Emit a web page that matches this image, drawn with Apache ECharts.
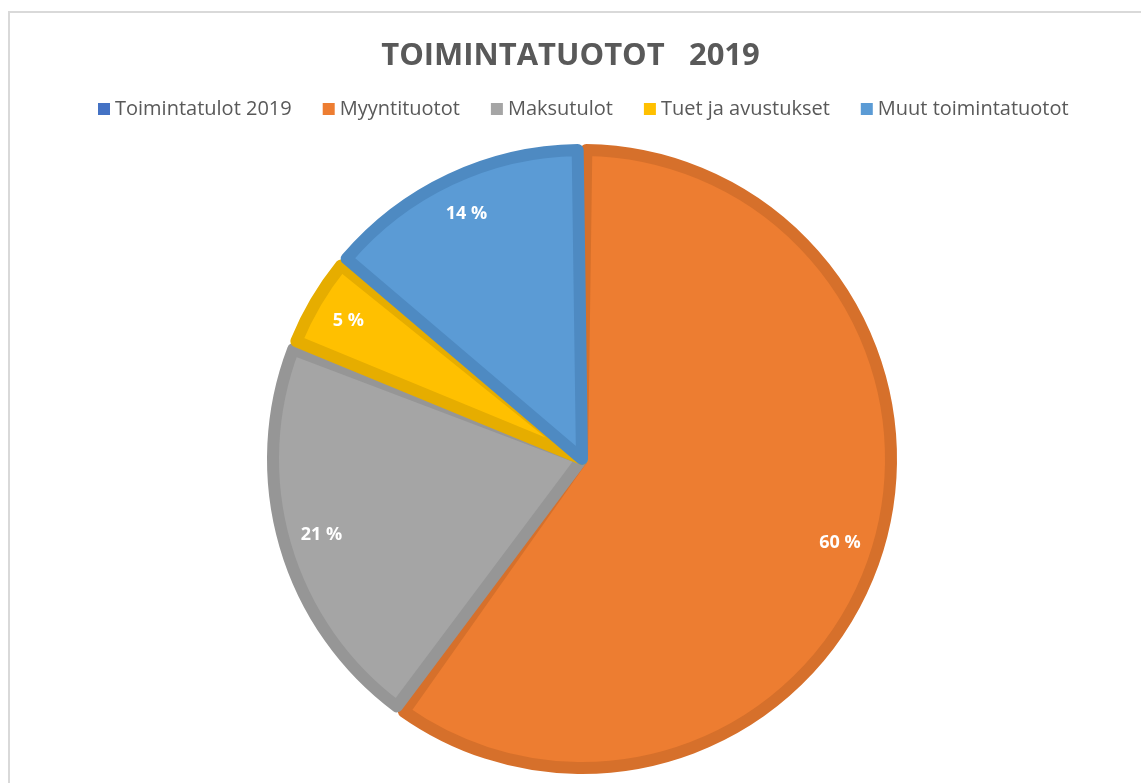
<!DOCTYPE html>
<html>
<head>
<meta charset="utf-8">
<script src="https://cdn.jsdelivr.net/npm/echarts@6/dist/echarts.min.js"></script>
<style>
  html, body { margin: 0; padding: 0; background: #fff; }
  #main { width: 1141px; height: 783px; }
</style>
</head>
<body>
<div id="main"></div>
<script>
var categories = ['Toimintatulot 2019', 'Myyntituotot', 'Maksutulot', 'Tuet ja avustukset', 'Muut toimintatuotot'];
var shares = [0, 60, 21, 5, 14];
var fillColors = ['#4472C4', '#ED7D31', '#A5A5A5', '#FFC000', '#5B9BD5'];
var edgeColors = ['#3A62A8', '#D6702B', '#969696', '#E6AD00', '#4E8AC2'];

var center = [582, 459];
var R = 312;

// keepZero: the empty slice is only needed so the legend lists it
function makeData(colors, keepZero) {
    var out = [];
    for (var i = 0; i < categories.length; i++) {
        if (!shares[i] && !keepZero) continue;
        out.push({ name: categories[i], value: shares[i], itemStyle: { color: colors[i] } });
    }
    return out;
}

// light slices get a stroke in their own darker tone, that gives the inner edge
var innerData = makeData(fillColors, false).map(function (d) {
    var i = categories.indexOf(d.name);
    d.itemStyle.borderColor = edgeColors[i];
    return d;
});

var legendData = categories.map(function (c, i) {
    return { name: c, itemStyle: { color: fillColors[i], borderWidth: 0 } };
});

var myChart = echarts.init(document.getElementById('main'));

var option = {
    animation: false,
    title: {
        text: 'TOIMINTATUOTOT   2019',
        left: 'center',
        top: 36,
        textStyle: { fontFamily: 'Open Sans', fontSize: 31, fontWeight: 'bold', color: '#595959' }
    },
    legend: {
        top: 94,
        left: 93,
        itemWidth: 12,
        itemHeight: 12,
        itemGap: 31,
        icon: 'rect',
        data: legendData,
        itemStyle: { borderWidth: 0 },
        textStyle: { fontFamily: 'Open Sans', fontSize: 20, color: '#595959' },
        selectedMode: false
    },
    graphic: [{
        type: 'rect',
        shape: { x: 9, y: 12, width: 1200, height: 900 },
        style: { fill: 'none', stroke: '#D9D9D9', lineWidth: 2 },
        silent: true
    }],
    series: [
        {
            // inner light fill
            type: 'pie',
            z: 3,
            center: center,
            radius: R - 3,
            startAngle: 90,
            clockwise: true,
            padAngle: 1.6,
            silent: true,
            itemStyle: { borderWidth: 12, borderJoin: 'round' },
            label: { show: false },
            labelLine: { show: false },
            data: innerData
        },
        {
            // darker edge
            type: 'pie',
            z: 2,
            center: center,
            radius: R,
            startAngle: 90,
            clockwise: true,
            silent: true,
            label: { show: false },
            labelLine: { show: false },
            data: makeData(edgeColors, true)
        },
        {
            // labels ring
            type: 'pie',
            z: 4,
            center: center,
            radius: [R * 0.72, R],
            startAngle: 90,
            clockwise: true,
            silent: true,
            itemStyle: { color: 'rgba(0,0,0,0)' },
            label: {
                show: true,
                position: 'inside',
                color: '#fff',
                fontFamily: 'Open Sans',
                fontWeight: 'bold',
                fontSize: 18,
                formatter: '{c} %'
            },
            labelLine: { show: false },
            data: makeData(edgeColors, false).map(function (d) { return { name: d.name, value: d.value }; })
        }
    ]
};

myChart.setOption(option);
</script>
</body>
</html>
